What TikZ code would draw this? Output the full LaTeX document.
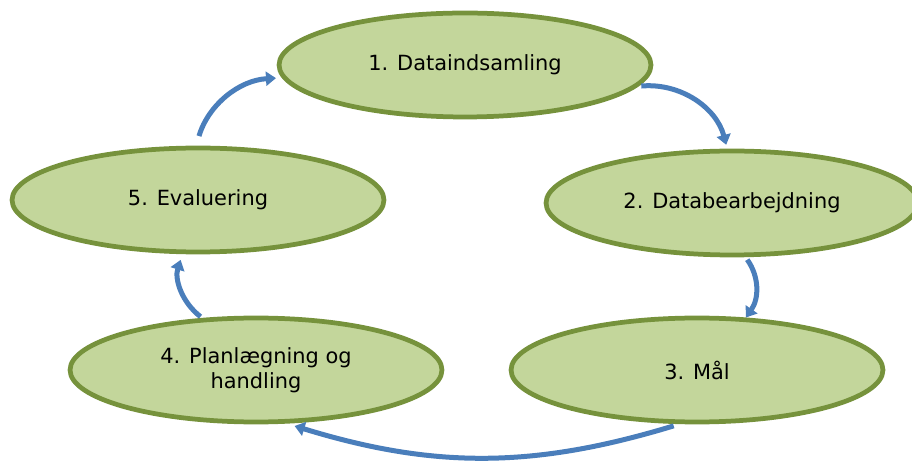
\documentclass[tikz,border=0pt]{standalone}
\usepackage{fontspec}
\setmainfont{DejaVu Sans}
\usetikzlibrary{shapes.geometric,arrows.meta}
\definecolor{stepfill}{HTML}{C3D69B}
\definecolor{stepline}{HTML}{76923C}
\definecolor{cycleblue}{HTML}{4A7EBB}

\begin{document}
\begin{tikzpicture}[x=0.02cm,y=0.02cm,
  stepnode/.style={draw=stepline, fill=stepfill, ellipse, line width=0.095cm,
    minimum width=7.44cm, minimum height=2.08cm, inner sep=0pt, align=center,
    font=\fontsize{11.9}{14.2}\selectfont},
  cyc/.style={draw=cycleblue, line width=0.1cm, -{Triangle[width=0.28cm,length=0.2cm]}}]
\clip (0,0) rectangle (912,463);
\node[stepnode] (1) at (465,398) {1. Dataindsamling};
\node[stepnode] (2) at (732,260) {2. Databearbejdning};
\node[stepnode] (3) at (697,93) {3. Mål};
\node[stepnode] (4) at (256,93) {4. Planlægning og\\handling};
\node[stepnode] (5) at (198,263) {5. Evaluering};
% the cycle
\path[cyc,shorten <=0.06cm,shorten >=0.08cm] (1.-7) to[bend left=40] (2.95);
\path[cyc,shorten <=0.06cm] (2.-76) to[bend left=35] (3.47);
\path[cyc,shorten <=0.12cm,shorten >=0.16cm] (3.-108) to[bend left=17] (4.-60);
\path[cyc,shorten <=0.04cm,shorten >=0.12cm] (4.136) to[bend left=35] (5.-106);
\path[cyc,shorten <=0.2cm,shorten >=0.12cm] (5.92) to[bend left=35] (1.184);
\end{tikzpicture}
\end{document}
